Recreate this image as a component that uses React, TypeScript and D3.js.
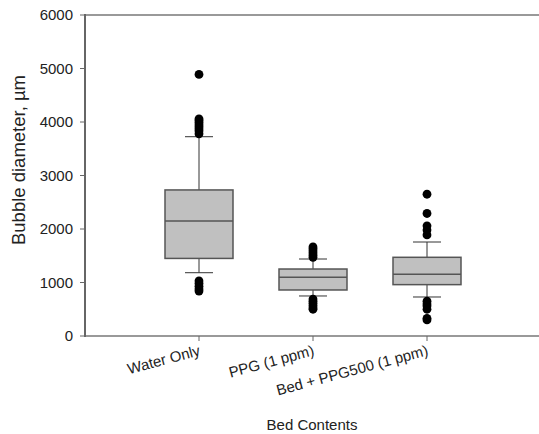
import React from 'react';
import * as d3 from 'd3';

// Box statistics (µm)
const CATEGORIES = ['Water Only', 'PPG (1 ppm)', 'Bed + PPG500 (1 ppm)'];
const Q1 = [1450, 860, 960];
const MEDIANS = [2150, 1097, 1153];
const Q3 = [2730, 1252, 1471];
const WHISKER_LOW = [1183, 748, 729];
const WHISKER_HIGH = [3725, 1439, 1757];
const OUTLIERS = [
  [840, 880, 930, 980, 1030, 3780, 3830, 3870, 3910, 3950, 3990, 4030, 4060, 4890],
  [500, 530, 570, 610, 650, 690, 1470, 1510, 1550, 1590, 1630, 1665],
  [300, 330, 500, 560, 600, 650, 1890, 1980, 2060, 2290, 2650]
];
const Y_TICKS = [0, 1000, 2000, 3000, 4000, 5000, 6000];

const WIDTH = 539;
const HEIGHT = 434;
const FONT = 'Liberation Sans, Arial, sans-serif';

export default function App() {
  const y = d3.scaleLinear().domain([0, 6000]).range([336, 15]);
  const x = d3.scaleLinear().domain([0, 4]).range([85, 541]);
  const boxHalf = 34;
  const capHalf = 14;

  return (
    <svg width={WIDTH} height={HEIGHT} style={{position: 'absolute', left: 0, top: 0, background: '#fff'}}
      fontFamily={FONT}>
      {/* frame lines */}
      <line x1={x(0)} x2={WIDTH} y1={y(6000)} y2={y(6000)} stroke='#999' strokeWidth={2} />
      <line x1={x(0)} x2={WIDTH} y1={y(0)} y2={y(0)} stroke='#999' strokeWidth={2} />
      <line x1={x(0)} x2={x(0)} y1={y(6000) - 1} y2={y(0) + 1} stroke='#666' strokeWidth={2} />

      {/* y axis */}
      {Y_TICKS.map(t => (
        <g key={t}>
          <line x1={x(0) - 5} x2={x(0)} y1={y(t)} y2={y(t)} stroke='#666' strokeWidth={1} />
          <text x={x(0) - 12} y={y(t)} dy='0.35em' textAnchor='end' fontSize={15} fill='#222'>{t}</text>
        </g>
      ))}
      <text transform={`translate(25,160) rotate(-90)`} textAnchor='middle' fontSize={18.5} fill='#222'>
        Bubble diameter, µm
      </text>

      {/* x axis */}
      {CATEGORIES.map((c, i) => (
        <g key={c}>
          <line x1={x(i + 1)} x2={x(i + 1)} y1={y(0)} y2={y(0) + 5} stroke='#666' strokeWidth={1} />
          <text transform={`translate(${x(i + 1) + 2},${y(0) + 19}) rotate(-15)`} textAnchor='end'
            fontSize={15} fill='#222'>{c}</text>
        </g>
      ))}
      <text x={312} y={430} textAnchor='middle' fontSize={15} fill='#222'>Bed Contents</text>

      {/* boxes */}
      {CATEGORIES.map((c, i) => {
        const cx = x(i + 1);
        return (
          <g key={c}>
            <line x1={cx} x2={cx} y1={y(WHISKER_HIGH[i])} y2={y(Q3[i])} stroke='#333' strokeWidth={1} />
            <line x1={cx} x2={cx} y1={y(Q1[i])} y2={y(WHISKER_LOW[i])} stroke='#333' strokeWidth={1} />
            <line x1={cx - capHalf} x2={cx + capHalf} y1={y(WHISKER_HIGH[i])} y2={y(WHISKER_HIGH[i])}
              stroke='#333' strokeWidth={1} />
            <line x1={cx - capHalf} x2={cx + capHalf} y1={y(WHISKER_LOW[i])} y2={y(WHISKER_LOW[i])}
              stroke='#333' strokeWidth={1} />
            <rect x={cx - boxHalf} y={y(Q3[i])} width={boxHalf * 2} height={y(Q1[i]) - y(Q3[i])}
              fill='#c0c0c0' stroke='#555' strokeWidth={1.5} />
            <line x1={cx - boxHalf} x2={cx + boxHalf} y1={y(MEDIANS[i])} y2={y(MEDIANS[i])}
              stroke='#555' strokeWidth={1.5} />
            {OUTLIERS[i].map((v, j) => (
              <circle key={j} cx={cx} cy={y(v)} r={4.4} fill='#000' />
            ))}
          </g>
        );
      })}
    </svg>
  );
}
